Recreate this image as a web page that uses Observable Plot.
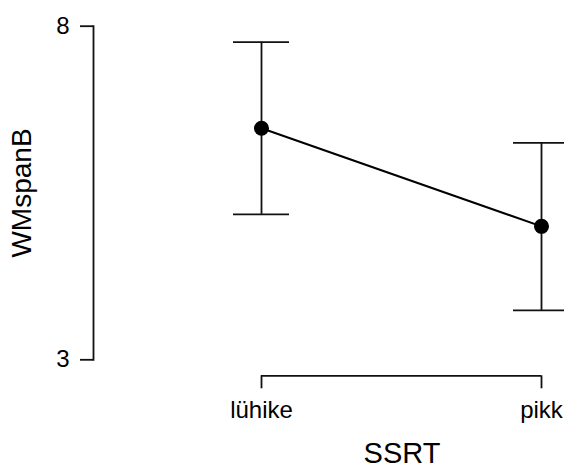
<!DOCTYPE html>
<html>
<head>
<meta charset="utf-8">
<script src="https://cdn.jsdelivr.net/npm/d3@7"></script>
<script src="https://cdn.jsdelivr.net/npm/@observablehq/plot@0.6"></script>
<style>
  html, body { margin: 0; padding: 0; background: #fff; }
  #chart { width: 564px; height: 468px; }
</style>
</head>
<body>
<div id="chart"></div>
<script>
// Data
const categories = ["lühike", "pikk"];
const means = [6.47, 5.0];
const lower = [5.18, 3.74];
const upper = [7.76, 6.25];
const yDomain = [3, 8];
const yTicks = [3, 8];
const xTitle = "SSRT";
const yTitle = "WMspanB";

const rows = categories.map((c, i) => ({cat: c, mean: means[i], lo: lower[i], hi: upper[i]}));
const axisRow = [{a: categories[0], b: categories[categories.length - 1], y: yDomain[0]}];

const ink = "#111";
const plot = Plot.plot({
  width: 564,
  height: 468,
  marginLeft: 93,
  marginRight: 22,
  marginTop: 25.7,
  marginBottom: 108.7,
  style: {fontFamily: "'Liberation Sans', Arial, sans-serif", background: "#fff", color: "#000"},
  x: {type: "point", domain: categories, range: [261, 541.7], padding: 0, axis: null},
  y: {domain: yDomain, axis: null},
  marks: [
    Plot.frame({anchor: "left", stroke: ink, strokeWidth: 1.8}),
    Plot.axisY({ticks: yTicks, tickFormat: d3.format("d"), tickSize: 13, tickPadding: 11, fontSize: 24, label: null, stroke: ink, strokeWidth: 1.8, fill: "#000"}),
    Plot.ruleY(axisRow, {y: "y", x1: "a", x2: "b", dy: 16, stroke: ink, strokeWidth: 1.8}),
    Plot.axisX({tickSize: 13, tickPadding: 12, dy: 16, fontSize: 24, label: null, stroke: ink, strokeWidth: 1.8, fill: "#000"}),
    Plot.ruleX(rows, {x: "cat", y1: "lo", y2: "hi", stroke: ink, strokeWidth: 1.8}),
    Plot.ruleY(rows, {y: "lo", x1: "cat", x2: "cat", insetLeft: -28, insetRight: -28, stroke: ink, strokeWidth: 1.8}),
    Plot.ruleY(rows, {y: "hi", x1: "cat", x2: "cat", insetLeft: -28, insetRight: -28, stroke: ink, strokeWidth: 1.8}),
    Plot.line(rows, {x: "cat", y: "mean", stroke: "#000", strokeWidth: 2}),
    Plot.dot(rows, {x: "cat", y: "mean", r: 7.5, fill: "#000", stroke: "none"}),
    Plot.text([xTitle], {text: d => d, frameAnchor: "bottom", textAnchor: "middle", lineAnchor: "middle", dx: 84, dy: 94, fontSize: 29, fill: "#000"}),
    Plot.text([yTitle], {text: d => d, frameAnchor: "left", textAnchor: "middle", lineAnchor: "middle", rotate: -90, dx: -71.5, fontSize: 28, fill: "#000"})
  ]
});
document.getElementById("chart").appendChild(plot);
</script>
</body>
</html>
